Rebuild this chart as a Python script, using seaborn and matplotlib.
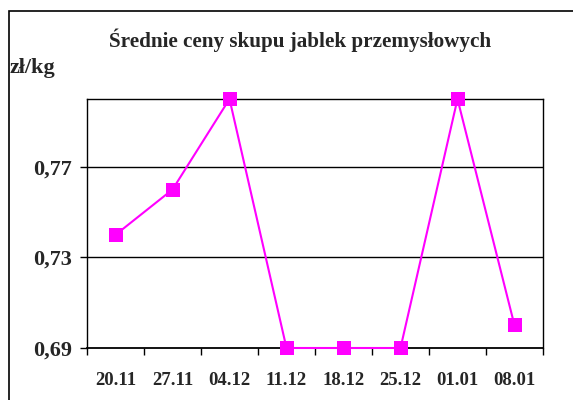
import matplotlib
matplotlib.use("Agg")
import matplotlib.pyplot as plt
import seaborn as sns
import pandas as pd
from matplotlib.patches import Rectangle
from matplotlib.ticker import FixedLocator, FuncFormatter

# data
dates = ["20.11", "27.11", "04.12", "11.12", "18.12", "25.12", "01.01", "08.01"]
prices = [0.74, 0.76, 0.80, 0.69, 0.69, 0.69, 0.80, 0.70]
y_ticks = [0.69, 0.73, 0.77]

df = pd.DataFrame({"data": dates, "cena": prices})
df["x"] = range(len(df))

sns.set_style("white")
plt.rcParams["font.family"] = ["Liberation Serif", "DejaVu Serif"]
plt.rcParams["font.weight"] = "bold"

fig = plt.figure(figsize=(5.73, 4.0), dpi=100)
ax = fig.add_axes([87 / 573, 1 - 348 / 400, 456 / 573, 249 / 400])

sns.lineplot(data=df, x="x", y="cena", ax=ax, color="#ff00ff", lw=1.5,
             marker="s", markersize=9.5, markeredgewidth=0, markerfacecolor="#ff00ff")
# draw the series over the axis frame, like the original
for ln in ax.lines:
    ln.set_clip_on(False)
    ln.set_zorder(4)

ax.set_xlim(-0.5, len(dates) - 0.5)
ax.set_ylim(0.69, 0.80)

ax.set_xticks(df["x"])
ax.set_xticklabels(dates, fontsize=13.5, fontweight="bold")
ax.xaxis.set_minor_locator(FixedLocator([i - 0.5 for i in range(len(dates) + 1)]))
ax.tick_params(axis="x", which="major", length=0, pad=17)
ax.tick_params(axis="x", which="minor", length=5, width=1, color="black", direction="out", bottom=True)

ax.yaxis.set_major_locator(FixedLocator(y_ticks))
ax.yaxis.set_major_formatter(FuncFormatter(lambda v, p: f"{v:.2f}".replace(".", ",")))
ax.tick_params(axis="y", length=5, width=1, color="black", direction="out", left=True, pad=6)
for lbl in ax.get_yticklabels():
    lbl.set_fontsize(16)
    lbl.set_fontweight("bold")

ax.grid(False)
for v in y_ticks[1:]:
    ax.axhline(v, color="black", lw=1, zorder=0)

for s in ax.spines.values():
    s.set_visible(True)
    s.set_color("black")
    s.set_linewidth(1)
ax.spines["bottom"].set_linewidth(1.3)

ax.set_xlabel("")
ax.set_ylabel("")

fig.text(300 / 573, 1 - 40 / 400, "Średnie ceny skupu jablek przemysłowych",
         ha="center", va="center", fontsize=15.2, fontweight="bold")
fig.text(10 / 573, 1 - 68 / 400, "zł/kg", ha="left", va="center",
         fontsize=16, fontweight="bold")

# outer chart frame (cut by the image edges on the right and bottom)
fig.patches.append(Rectangle((9 / 573, -0.1), 1.2, 1.1 - 11 / 400, transform=fig.transFigure,
                             fill=False, edgecolor="black", lw=1.2, clip_on=False))

fig.savefig("out.png", dpi=100)
